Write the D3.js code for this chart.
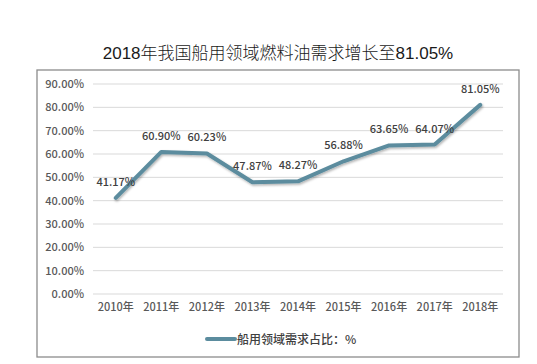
<!DOCTYPE html>
<html><head><meta charset="utf-8">
<script src="https://cdn.jsdelivr.net/npm/d3@7"></script>
<style>
body{margin:0;background:#fff;}
svg{display:block;}
text{font-family:"Noto Sans CJK SC","Noto Sans",sans-serif;}
</style></head>
<body><svg id="c" width="537" height="364"></svg>
<script>
const title = "2018年我国船用领域燃料油需求增长至81.05%";
const categories = ["2010年","2011年","2012年","2013年","2014年","2015年","2016年","2017年","2018年"];
const values = [41.17,60.90,60.23,47.87,48.27,56.88,63.65,64.07,81.05];
const seriesName = "船用领域需求占比：%";
const yTicks = [0,10,20,30,40,50,60,70,80,90];

const svg = d3.select("#c");
const defs = svg.append("defs");
const f = defs.append("filter").attr("id","sh").attr("x","-10%").attr("y","-10%").attr("width","120%").attr("height","130%");
f.append("feDropShadow").attr("dx",1).attr("dy",1.5).attr("stdDeviation",1.2).attr("flood-color","#000").attr("flood-opacity",0.3);

// outer border
svg.append("rect").attr("x",37).attr("y",70).attr("width",482).attr("height",287)
  .attr("fill","#fff").attr("stroke","#8c8c8c").attr("stroke-width",1.3);

const t = svg.append("text").attr("x",278).attr("y",59).attr("text-anchor","middle")
  .attr("font-size",17).attr("fill","#1a1a1a").attr("font-weight",300)
  .style("font-family","'Liberation Sans','Noto Sans CJK SC',sans-serif").text(title);
const tw = t.node().getComputedTextLength();
if (Math.abs(tw-353) > 4) t.attr("textLength",353).attr("lengthAdjust","spacingAndGlyphs");

const x = d3.scaleBand().domain(categories).range([93,503]);
const y = d3.scaleLinear().domain([0,90]).range([294,84]);
const cx = c => x(c) + x.bandwidth()/2;

// gridlines
svg.append("g").selectAll("line").data(yTicks).join("line")
  .attr("x1",93).attr("x2",503).attr("y1",d=>y(d)).attr("y2",d=>y(d))
  .attr("stroke","#d9d9d9").attr("stroke-width",1);

// y axis
const ya = svg.append("g").attr("transform","translate(84,0)")
  .call(d3.axisLeft(y).tickValues(yTicks).tickSize(0).tickPadding(0).tickFormat(d=>d.toFixed(2)+"%"));
ya.select(".domain").remove();
ya.selectAll("text").attr("font-size",11).attr("fill","#595959").attr("font-weight",500)
  .attr("font-family","'Noto Sans CJK SC',sans-serif");

// x axis
const xa = svg.append("g").attr("transform","translate(0,303)")
  .call(d3.axisBottom(x).tickSize(0).tickPadding(0));
xa.select(".domain").remove();
xa.selectAll("text").attr("font-size",11).attr("fill","#595959").attr("font-weight",500)
  .attr("font-family","'Noto Sans CJK SC',sans-serif");

// line
const line = d3.line().x((d,i)=>cx(categories[i])).y(d=>y(d));
svg.append("path").datum(values).attr("d",line).attr("fill","none")
  .attr("stroke","#5b8c9e").attr("stroke-width",4).attr("stroke-linejoin","round")
  .attr("stroke-linecap","round").attr("filter","url(#sh)");

// data labels
svg.append("g").selectAll("text").data(values).join("text")
  .attr("x",(d,i)=>cx(categories[i])).attr("y",d=>y(d)-12)
  .attr("text-anchor","middle").attr("font-size",11).attr("font-weight",500)
  .attr("fill","#404040").text(d=>d.toFixed(2)+"%");

// legend
svg.append("line").attr("x1",207).attr("x2",235).attr("y1",339).attr("y2",339)
  .attr("stroke","#5b8c9e").attr("stroke-width",4).attr("stroke-linecap","round");
svg.append("text").attr("x",237).attr("y",343.5).attr("font-size",12).attr("fill","#404040")
  .attr("font-weight",500).text(seriesName);
</script></body></html>
